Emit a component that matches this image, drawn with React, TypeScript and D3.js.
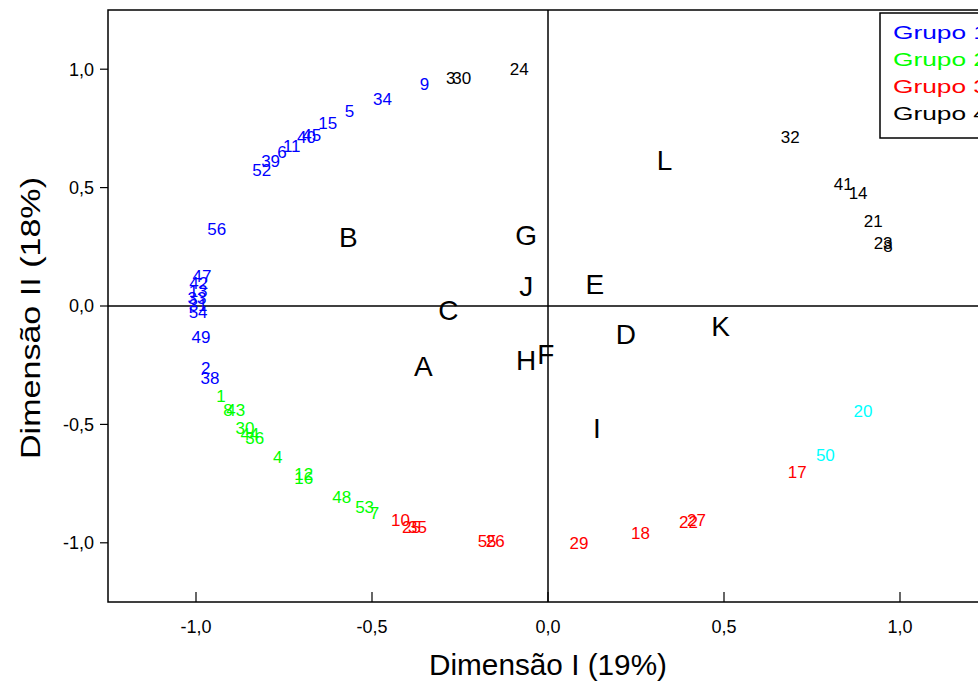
import React, { useEffect, useRef } from 'react';
import * as d3 from 'd3';

// coordenadas (Dimensão I, Dimensão II)
const grupo1 = [
  { id: '9', x: -0.351, y: 0.937 },
  { id: '34', x: -0.47, y: 0.873 },
  { id: '5', x: -0.564, y: 0.823 },
  { id: '15', x: -0.626, y: 0.772 },
  { id: '40', x: -0.686, y: 0.713 },
  { id: '45', x: -0.671, y: 0.722 },
  { id: '6', x: -0.756, y: 0.65 },
  { id: '11', x: -0.728, y: 0.675 },
  { id: '39', x: -0.788, y: 0.612 },
  { id: '52', x: -0.813, y: 0.574 },
  { id: '56', x: -0.941, y: 0.325 },
  { id: '47', x: -0.983, y: 0.127 },
  { id: '42', x: -0.992, y: 0.097 },
  { id: '13', x: -0.994, y: 0.063 },
  { id: '33', x: -0.997, y: 0.034 },
  { id: '31', x: -0.994, y: 0.004 },
  { id: '54', x: -0.994, y: -0.025 },
  { id: '49', x: -0.986, y: -0.131 },
  { id: '2', x: -0.972, y: -0.262 },
  { id: '38', x: -0.96, y: -0.304 },
];

const grupo2 = [
  { id: '1', x: -0.929, y: -0.38 },
  { id: '8', x: -0.909, y: -0.439 },
  { id: '43', x: -0.887, y: -0.439 },
  { id: '30', x: -0.861, y: -0.515 },
  { id: '44', x: -0.847, y: -0.54 },
  { id: '36', x: -0.833, y: -0.557 },
  { id: '4', x: -0.768, y: -0.637 },
  { id: '12', x: -0.694, y: -0.709 },
  { id: '16', x: -0.694, y: -0.726 },
  { id: '48', x: -0.586, y: -0.806 },
  { id: '53', x: -0.521, y: -0.848 },
  { id: '7', x: -0.493, y: -0.873 },
];

const grupo3 = [
  { id: '10', x: -0.419, y: -0.903 },
  { id: '25', x: -0.388, y: -0.932 },
  { id: '35', x: -0.371, y: -0.932 },
  { id: '55', x: -0.173, y: -0.992 },
  { id: '26', x: -0.15, y: -0.992 },
  { id: '29', x: 0.088, y: -1.0 },
  { id: '18', x: 0.263, y: -0.958 },
  { id: '22', x: 0.399, y: -0.911 },
  { id: '27', x: 0.422, y: -0.903 },
  { id: '17', x: 0.708, y: -0.7 },
];

const grupo4 = [
  { id: '24', x: -0.082, y: 1.0 },
  { id: '3', x: -0.276, y: 0.962 },
  { id: '30', x: -0.245, y: 0.962 },
  { id: '32', x: 0.688, y: 0.713 },
  { id: '41', x: 0.839, y: 0.515 },
  { id: '14', x: 0.881, y: 0.477 },
  { id: '21', x: 0.924, y: 0.359 },
  { id: '23', x: 0.952, y: 0.266 },
  { id: '8', x: 0.966, y: 0.253 },
];

const grupo5 = [
  { id: '50', x: 0.788, y: -0.629 },
  { id: '20', x: 0.895, y: -0.443 },
];

const categorias = [
  { id: 'A', x: -0.354, y: -0.253 },
  { id: 'B', x: -0.567, y: 0.291 },
  { id: 'C', x: -0.283, y: -0.017 },
  { id: 'D', x: 0.221, y: -0.118 },
  { id: 'E', x: 0.133, y: 0.093 },
  { id: 'F', x: -0.006, y: -0.203 },
  { id: 'G', x: -0.062, y: 0.3 },
  { id: 'H', x: -0.062, y: -0.228 },
  { id: 'I', x: 0.139, y: -0.515 },
  { id: 'J', x: -0.062, y: 0.084 },
  { id: 'K', x: 0.49, y: -0.084 },
  { id: 'L', x: 0.331, y: 0.616 },
];

const tickValues = [-1, -0.5, 0, 0.5, 1];
const tickLabels = ['-1,0', '-0,5', '0,0', '0,5', '1,0'];
const legendLabels = ['Grupo 1', 'Grupo 2', 'Grupo 3', 'Grupo 4'];
const groupColors = ['#0000ff', '#00ff00', '#ff0000', '#000000', '#00ffff'];

const FONT = '"Liberation Sans", Arial, sans-serif';

const App = () => {
  const ref = useRef<SVGSVGElement>(null);

  useEffect(() => {
    const svg = d3.select(ref.current);
    svg.selectAll('*').remove();

    const width = 978;
    const height = 684;
    const margin = { top: 10, right: -10, bottom: 82, left: 108 };

    const x = d3.scaleLinear()
      .domain([-1.25, 1.25])
      .range([margin.left, width - margin.right]);
    const y = d3.scaleLinear()
      .domain([-1.25, 1.25])
      .range([height - margin.bottom, margin.top]);

    svg.attr('width', width).attr('height', height);
    svg.append('rect').attr('width', width).attr('height', height).attr('fill', '#fff');

    // moldura
    svg.append('rect')
      .attr('x', x(-1.25)).attr('y', y(1.25))
      .attr('width', x(1.25) - x(-1.25)).attr('height', y(-1.25) - y(1.25))
      .attr('fill', 'none').attr('stroke', '#000').attr('stroke-width', 1.5);

    // linhas do zero
    svg.append('line')
      .attr('x1', x(-1.25)).attr('x2', x(1.25))
      .attr('y1', y(0)).attr('y2', y(0))
      .attr('stroke', '#000').attr('stroke-width', 1.5);
    svg.append('line')
      .attr('x1', x(0)).attr('x2', x(0))
      .attr('y1', y(1.25)).attr('y2', y(-1.25))
      .attr('stroke', '#000').attr('stroke-width', 1.5);

    // ticks
    svg.selectAll('.ytick')
      .data(tickValues)
      .join('line')
      .attr('x1', x(-1.25) - 8).attr('x2', x(-1.25))
      .attr('y1', d => y(d)).attr('y2', d => y(d))
      .attr('stroke', '#000').attr('stroke-width', 1.2);
    svg.selectAll('.xtick')
      .data(tickValues)
      .join('line')
      .attr('x1', d => x(d)).attr('x2', d => x(d))
      .attr('y1', y(-1.25)).attr('y2', y(-1.25) - 10)
      .attr('stroke', '#000').attr('stroke-width', 1.2);

    svg.append('g').selectAll('text')
      .data(tickValues)
      .join('text')
      .attr('x', x(-1.25) - 14)
      .attr('y', d => y(d))
      .attr('dy', '0.35em')
      .attr('text-anchor', 'end')
      .style('font-family', FONT)
      .style('font-size', '18px')
      .text((d, i) => tickLabels[i]);

    svg.append('g').selectAll('text')
      .data(tickValues)
      .join('text')
      .attr('x', d => x(d))
      .attr('y', y(-1.25) + 31)
      .attr('text-anchor', 'middle')
      .style('font-family', FONT)
      .style('font-size', '18px')
      .text((d, i) => tickLabels[i]);

    // pontos (rótulos numéricos)
    const groups = [grupo1, grupo2, grupo3, grupo4, grupo5];
    groups.forEach((g, gi) => {
      svg.append('g').selectAll('text')
        .data(g)
        .join('text')
        .attr('x', d => x(d.x))
        .attr('y', d => y(d.y))
        .attr('dy', '0.36em')
        .attr('text-anchor', 'middle')
        .attr('fill', groupColors[gi])
        .style('font-family', FONT)
        .style('font-size', '17px')
        .text(d => d.id);
    });

    // categorias (letras)
    svg.append('g').selectAll('text')
      .data(categorias)
      .join('text')
      .attr('x', d => x(d.x))
      .attr('y', d => y(d.y))
      .attr('dy', '0.36em')
      .attr('text-anchor', 'middle')
      .style('font-family', FONT)
      .style('font-size', '28px')
      .text(d => d.id);

    // legenda
    svg.append('rect')
      .attr('x', 880).attr('y', 13)
      .attr('width', 130).attr('height', 125)
      .attr('fill', '#fff').attr('stroke', '#000').attr('stroke-width', 1.5);
    svg.append('g').selectAll('text')
      .data(legendLabels)
      .join('text')
      .attr('x', 893)
      .attr('y', (d, i) => 39 + i * 27)
      .attr('fill', (d, i) => groupColors[i])
      .attr('textLength', 95)
      .attr('lengthAdjust', 'spacingAndGlyphs')
      .style('font-family', FONT)
      .style('font-size', '19px')
      .text(d => d);

    // títulos dos eixos
    svg.append('text')
      .attr('x', x(0))
      .attr('y', 675)
      .attr('text-anchor', 'middle')
      .attr('textLength', 238)
      .attr('lengthAdjust', 'spacingAndGlyphs')
      .style('font-family', FONT)
      .style('font-size', '29px')
      .text('Dimensão I (19%)');

    svg.append('text')
      .attr('transform', `translate(40,${y(0) + 12}) rotate(-90)`)
      .attr('text-anchor', 'middle')
      .attr('textLength', 282)
      .attr('lengthAdjust', 'spacingAndGlyphs')
      .style('font-family', FONT)
      .style('font-size', '28px')
      .text('Dimensão II (18%)');
  }, []);

  return (
    <div style={{ position: 'absolute', left: 0, top: 0, width: 978, height: 684, overflow: 'hidden' }}>
      <svg ref={ref} style={{ display: 'block' }}></svg>
    </div>
  );
};

export default App;
